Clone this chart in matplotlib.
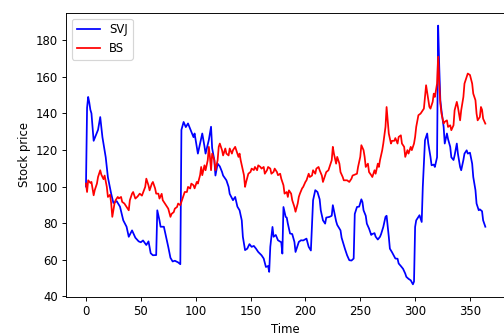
import matplotlib

matplotlib.use("Agg")
import matplotlib.pyplot as plt

# values (day index, price)
svj_days = [0, 1, 2, 3, 4, 5, 7, 9, 11, 13, 15, 18, 20, 23, 25, 28, 31, 34, 37, 39,
            42, 45, 48, 50, 52, 55, 57, 59, 61, 64, 65, 67, 68, 71, 73, 75, 77, 79, 81, 84,
            86, 87, 89, 91, 93, 96, 98, 99, 102, 104, 106, 108, 109, 112, 114, 115, 117, 118, 120, 122,
            124, 125, 128, 130, 131, 134, 136, 138, 140, 142, 143, 145, 147, 149, 151, 153, 155, 157, 160, 162,
            164, 166, 167, 168, 170, 171, 173, 175, 178, 179, 180, 182, 183, 184, 186, 188, 190, 191, 194, 196,
            198, 201, 203, 205, 207, 209, 211, 213, 214, 216, 218, 219, 222, 224, 225, 228, 229, 232, 233, 235,
            236, 238, 240, 242, 244, 245, 247, 249, 251, 252, 253, 255, 256, 258, 260, 261, 263, 264, 266, 268,
            269, 271, 273, 274, 276, 277, 279, 282, 284, 285, 287, 289, 291, 292, 294, 296, 298, 299, 300, 301,
            304, 306, 307, 309, 311, 312, 314, 315, 317, 318, 320, 321, 322, 323, 324, 326, 327, 329, 330, 332,
            333, 335, 336, 338, 339, 341, 342, 344, 345, 347, 348, 350, 352, 353, 355, 356, 358, 359, 361, 362,
            364]
svj_price = [100, 143, 149, 146, 142, 140, 125, 128, 131, 138, 127, 116, 105, 96, 91, 92, 89, 81.5, 78, 72.5,
             76, 72, 70, 69.5, 70.5, 68, 70, 63.5, 62.4, 62.5, 87, 81.5, 78, 78, 72.5, 67, 61, 59, 59.4, 58.5,
             57.5, 131, 135.3, 132.5, 134.5, 130, 127, 129, 118, 123.5, 129, 122, 118, 125.5, 132.7, 121, 114.4, 106, 112.5, 111,
             108, 106, 103.4, 99.8, 96, 92.5, 94.3, 89, 87, 81.5, 72.5, 65.2, 66, 68.5, 67, 67.5, 66, 64.2, 62.4, 60.6,
             56, 56.5, 53.3, 67, 77.9, 72.5, 73.5, 70.6, 69.5, 63.3, 88.8, 83.4, 83, 79.7, 74.3, 74, 69.7, 64.2, 69.7, 70.6,
             70.5, 71.5, 67, 65, 92.5, 98, 97, 93, 87, 81.5, 79.7, 83, 83.4, 84, 89.8, 81, 79, 76, 72, 68,
             66, 62.4, 59.7, 59.5, 60.6, 85, 88.8, 89, 93, 91.5, 87, 84, 79.7, 77, 73.5, 74, 74.5, 72.6, 71, 72.5,
             74, 77.9, 83.4, 84, 72.6, 66, 64, 60.6, 60.5, 57.9, 56.5, 55, 52.4, 50.6, 49.5, 48.7, 46.5, 48, 77.9, 81.5,
             84.3, 80.6, 99.8, 125.3, 129, 123.5, 116.2, 111.6, 112, 110.7, 116, 188, 165.4, 147, 141.7, 132.6, 123.5, 129, 126, 121.7,
             116, 114.5, 117, 123.5, 118, 110.7, 108.9, 114.5, 118, 119.8, 118, 118.5, 112.5, 105.2, 98, 90.7, 87, 87.5, 86.5, 81.5,
             78]

bs_days = [0, 1, 2, 4, 5, 7, 8, 10, 11, 13, 14, 16, 17, 19, 20, 22, 23, 24, 26, 27,
           29, 30, 32, 33, 35, 37, 39, 40, 42, 43, 45, 47, 49, 51, 54, 55, 57, 58, 60, 61,
           63, 64, 66, 67, 69, 70, 72, 74, 75, 77, 78, 80, 81, 83, 84, 86, 87, 89, 90, 92,
           93, 95, 96, 98, 99, 101, 102, 104, 105, 106, 108, 109, 111, 112, 113, 114, 115, 117, 118, 120,
           121, 122, 124, 125, 127, 128, 130, 131, 133, 134, 136, 137, 139, 140, 141, 143, 144, 145, 146, 148,
           150, 151, 153, 154, 156, 157, 159, 160, 162, 163, 165, 166, 168, 169, 171, 172, 174, 175, 177, 178,
           180, 181, 183, 184, 185, 187, 188, 190, 191, 193, 194, 195, 197, 198, 200, 201, 203, 204, 206, 207,
           209, 210, 212, 213, 215, 216, 218, 219, 221, 222, 224, 225, 226, 228, 229, 231, 232, 234, 235, 238,
           240, 242, 243, 245, 247, 248, 250, 251, 253, 254, 255, 257, 258, 260, 261, 263, 264, 266, 267, 268,
           270, 271, 273, 274, 275, 276, 278, 279, 281, 282, 284, 285, 287, 288, 290, 291, 293, 294, 296, 297,
           299, 300, 301, 303, 305, 306, 308, 309, 310, 311, 313, 314, 316, 317, 318, 320, 321, 322, 323, 324,
           326, 327, 329, 330, 332, 333, 335, 336, 338, 339, 341, 342, 344, 345, 347, 348, 350, 352, 353, 355,
           356, 357, 359, 360, 361, 362, 364]
bs_price = [101.6, 97, 103.4, 102, 102.5, 95.2, 98, 101.6, 105.2, 108.9, 106.5, 104, 106, 99.8, 94.3, 95.5, 90.7, 83.4, 90.7, 92.5,
            94.3, 93.5, 94.3, 91.6, 90.7, 88.8, 87, 92.5, 96.1, 97, 93.4, 94.5, 96.1, 95, 99.8, 104.3, 100.6, 97.9, 101.5, 102.5,
            99, 96.1, 96.1, 93.4, 96, 92.5, 90.7, 88.8, 87.9, 83.4, 85, 86, 87.9, 88.8, 90.7, 89.8, 91.6, 95.2, 97, 97,
            99.8, 98.9, 101.6, 100.7, 99, 102.5, 101.6, 106.2, 110.7, 106.2, 111.6, 108.9, 114.4, 121.7, 116.2, 108.9, 118, 114.4, 108.9, 114.4,
            121.7, 123.5, 119.9, 117, 120.8, 118, 117, 120.8, 118, 119.9, 121.7, 119.9, 116.2, 118, 114.4, 108.9, 106.2, 99.8, 102.5, 107,
            108, 109.8, 109, 110.7, 108.9, 111.6, 110.7, 109.8, 110.7, 107, 108.9, 110.7, 109.8, 107, 108, 109.8, 108, 106.2, 107, 104.3,
            100.7, 96.1, 97, 94.3, 97.9, 96.1, 92.5, 88.8, 86.2, 90.7, 94.3, 96.1, 99, 99.8, 102.5, 103.4, 107, 105.2, 106, 108.9,
            107, 109.8, 110.7, 108.9, 106, 102.5, 106, 107.9, 108.9, 110.7, 114.4, 121.7, 118, 112.5, 116.2, 112.5, 107.9, 105.2, 103.4, 103.4,
            102.5, 104.3, 106, 106.5, 107, 110.7, 116.2, 122.6, 119.9, 116.2, 110.7, 112.5, 107.9, 106.2, 105.2, 108.9, 107, 112.5, 110.7, 114.4,
            119.8, 123.5, 132.6, 143.5, 136, 129, 123.5, 125, 125, 126.5, 123.5, 127.1, 128, 123.5, 121.7, 116.2, 119.9, 118, 121.7, 119.9,
            123.5, 127.1, 132.6, 139, 139.9, 140.8, 142.6, 149, 155.4, 151.5, 143.6, 142.6, 146.3, 150.8, 149, 156.3, 171, 156.3, 145.4, 140,
            134.5, 135.4, 136.2, 132.6, 133.5, 130.8, 133.5, 141.7, 146.3, 143.5, 136.2, 141.7, 149, 156.3, 160, 161.8, 161, 156.3, 150.8, 147.2,
            139.9, 136.2, 138, 143.5, 142, 137.1, 134.4]

# the reference looks like a 72 dpi notebook figure scaled up ~1.17x
DPI = 84
fig = plt.figure(figsize=(504 / DPI, 334 / DPI), dpi=DPI)
ax = fig.add_axes([66 / 504, 0.110, 439.3 / 504, 0.852])
ax.plot(svj_days, svj_price, color="blue", lw=1.5, label="SVJ")
ax.plot(bs_days, bs_price, color="red", lw=1.5, label="BS")
ax.set_xlabel("Time")
ax.set_ylabel("Stock price")
ax.legend(loc="upper left")
fig.savefig("out.png", dpi=DPI)
